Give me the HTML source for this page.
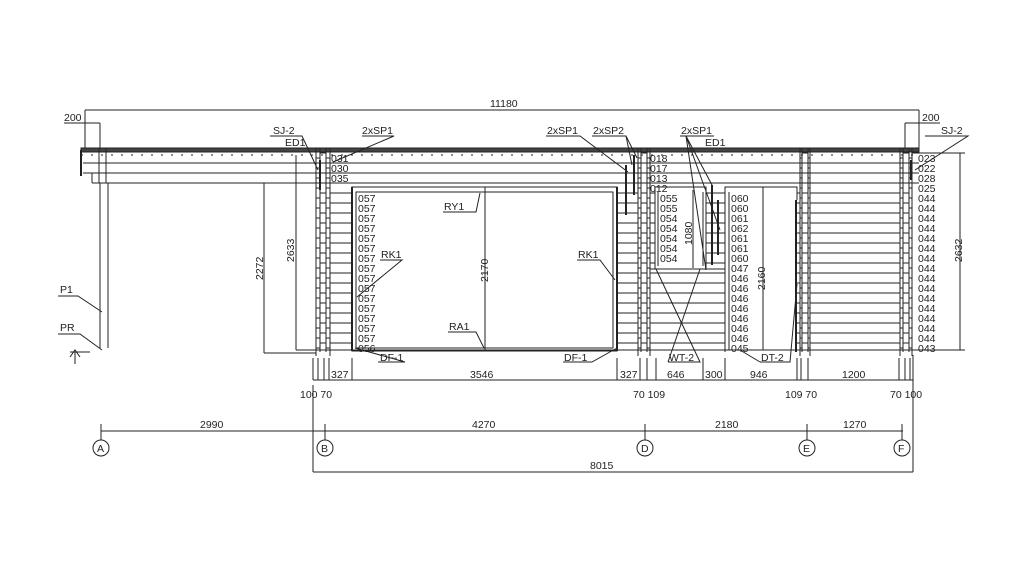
<!DOCTYPE html>
<html><head><meta charset="utf-8"><style>
html,body{margin:0;padding:0;background:#fff;}
svg{display:block}
text{font-family:"Liberation Sans",sans-serif;font-size:10.5px;fill:#222;}
</style></head><body>
<svg id="s" width="1024" height="576" viewBox="0 0 1024 576" xmlns="http://www.w3.org/2000/svg">
<rect width="1024" height="576" fill="#fff"/>
<g id="g" stroke="#222" stroke-width="1" fill="none">
<!-- top dims -->
<line x1="85" y1="110" x2="919" y2="110"/>
<line x1="85" y1="110" x2="85" y2="150"/>
<line x1="919" y1="110" x2="919" y2="150"/>
<line x1="64" y1="123" x2="100" y2="123"/>
<line x1="100" y1="123" x2="100" y2="150"/>
<line x1="905" y1="123" x2="940" y2="123"/>
<line x1="905" y1="123" x2="905" y2="150"/>
<!-- roof -->
<rect x="81" y="148" width="838" height="4" fill="#444" stroke="#222"/>
<line x1="81" y1="155" x2="919" y2="155" stroke-dasharray="2,8"/>
<line x1="83" y1="163" x2="919" y2="163"/>
<line x1="83" y1="173" x2="919" y2="173"/>
<line x1="92" y1="183" x2="919" y2="183"/>
<line x1="81" y1="150" x2="81" y2="176" stroke-width="2"/>
<line x1="92" y1="173" x2="92" y2="183"/>
<!-- left post -->
<rect x="99" y="148" width="7" height="35"/>
<line x1="100" y1="183" x2="100" y2="348"/>
<line x1="108" y1="183" x2="108" y2="348"/>
<!-- garage door -->
<rect x="352" y="187" width="265" height="164"/>
<rect x="356" y="192" width="257" height="156"/>
<line x1="485" y1="187" x2="485" y2="351"/>
<!-- window -->
<rect x="655" y="187" width="51" height="82"/>
<line x1="658" y1="192" x2="658" y2="266"/>
<line x1="703" y1="192" x2="703" y2="266"/>
<line x1="693" y1="190" x2="693" y2="268"/>
<!-- door -->
<path d="M725 352 V187 H797 V200"/>
<line x1="729" y1="192" x2="729" y2="350"/>
<line x1="763" y1="187" x2="763" y2="350"/>
<!-- vertical dims -->
<line x1="264" y1="183" x2="264" y2="353"/>
<line x1="264" y1="353" x2="316" y2="353"/>
<line x1="296" y1="155" x2="296" y2="350"/>
<line x1="296" y1="350" x2="316" y2="350"/>
<line x1="960" y1="153" x2="960" y2="350"/>
<line x1="912" y1="153" x2="965" y2="153"/>
<line x1="912" y1="350" x2="965" y2="350"/>
<!-- bottom dims -->
<line x1="313" y1="380" x2="913" y2="380"/>
<line x1="101" y1="431" x2="903" y2="431"/>
<line x1="313" y1="385" x2="313" y2="472"/>
<line x1="313" y1="472" x2="913" y2="472"/>
<line x1="913" y1="355" x2="913" y2="472"/>
<circle cx="101" cy="448" r="8"/><circle cx="325" cy="448" r="8"/><circle cx="645" cy="448" r="8"/><circle cx="807" cy="448" r="8"/><circle cx="902" cy="448" r="8"/>
<line x1="101" y1="424" x2="101" y2="440"/><line x1="325" y1="424" x2="325" y2="440"/><line x1="645" y1="424" x2="645" y2="440"/><line x1="807" y1="424" x2="807" y2="440"/><line x1="902" y1="424" x2="902" y2="440"/>
<!-- leaders -->
<path d="M270 136 H302 L318 170"/>
<path d="M362 136 H394 L333 162"/>
<path d="M546 136 H580 L628 172"/>
<path d="M592 136 H626 L637 158 M626 136 L632 165"/>
<path d="M680 136 H714 M686 136 L712 185 M686 136 L720 230 M686 136 L706 270"/>
<path d="M925 136 H968 L915 170"/>
<path d="M443 212 H476 L480 193"/>
<path d="M380 260 H402 L357 297"/>
<path d="M577 260 H600 L615 280"/>
<path d="M448 332 H476 L484 348"/>
<path d="M378 362 H405 L355 348"/>
<path d="M563 362 H592 L617 348"/>
<path d="M668 362 H700 L656 269 M668 362 L700 269"/>
<path d="M760 362 H790 L797 284 M760 362 L740 350"/>
<path d="M58 296 H78 L102 312"/>
<path d="M58 334 H80 L102 350"/>
<path d="M75 352 V364 M70 357 L75 350 L80 357"/>
<path d="M70 352 H90"/>
</g>
<g font-size="10">
<text x="64" y="121">200</text>
<text x="490" y="107">11180</text>
<text x="922" y="121">200</text>
<text x="273" y="134">SJ-2</text>
<text x="285" y="146">ED1</text>
<text x="362" y="134">2xSP1</text>
<text x="547" y="134">2xSP1</text>
<text x="593" y="134">2xSP2</text>
<text x="681" y="134">2xSP1</text>
<text x="705" y="146">ED1</text>
<text x="941" y="134">SJ-2</text>
<text x="444" y="210">RY1</text>
<text x="381" y="258">RK1</text>
<text x="578" y="258">RK1</text>
<text x="449" y="330">RA1</text>
<text x="380" y="361">DF-1</text>
<text x="564" y="361">DF-1</text>
<text x="669" y="361">WT-2</text>
<text x="761" y="361">DT-2</text>
<text x="60" y="293">P1</text>
<text x="60" y="331">PR</text>
<text x="331" y="378">327</text>
<text x="470" y="378">3546</text>
<text x="620" y="378">327</text>
<text x="667" y="378">646</text>
<text x="705" y="378">300</text>
<text x="750" y="378">946</text>
<text x="842" y="378">1200</text>
<text x="300" y="398">100 70</text>
<text x="633" y="398">70 109</text>
<text x="785" y="398">109 70</text>
<text x="890" y="398">70 100</text>
<text x="200" y="428">2990</text>
<text x="472" y="428">4270</text>
<text x="715" y="428">2180</text>
<text x="843" y="428">1270</text>
<text x="590" y="469">8015</text>
<text x="97" y="452">A</text><text x="321" y="452">B</text><text x="641" y="452">D</text><text x="803" y="452">E</text><text x="898" y="452">F</text>
<text transform="translate(263,280) rotate(-90)">2272</text>
<text transform="translate(294,262) rotate(-90)">2633</text>
<text transform="translate(962,262) rotate(-90)">2632</text>
<text transform="translate(488,282) rotate(-90)">2170</text>
<text transform="translate(692,245) rotate(-90)">1080</text>
<text transform="translate(765,290) rotate(-90)">2160</text>
<text x="331" y="162">031</text><text x="331" y="172">030</text><text x="331" y="182">035</text>
<text x="650" y="162">018</text><text x="650" y="172">017</text><text x="650" y="182">013</text><text x="650" y="192">012</text>
<text x="358" y="202">057</text><text x="358" y="212">057</text><text x="358" y="222">057</text><text x="358" y="232">057</text><text x="358" y="242">057</text><text x="358" y="252">057</text><text x="358" y="262">057</text><text x="358" y="272">057</text><text x="358" y="282">057</text><text x="358" y="292">057</text><text x="358" y="302">057</text><text x="358" y="312">057</text><text x="358" y="322">057</text><text x="358" y="332">057</text><text x="358" y="342">057</text><text x="358" y="352">056</text>
<text x="660" y="202">055</text><text x="660" y="212">055</text><text x="660" y="222">054</text><text x="660" y="232">054</text><text x="660" y="242">054</text><text x="660" y="252">054</text><text x="660" y="262">054</text>
<text x="731" y="202">060</text><text x="731" y="212">060</text><text x="731" y="222">061</text><text x="731" y="232">062</text><text x="731" y="242">061</text><text x="731" y="252">061</text><text x="731" y="262">060</text><text x="731" y="272">047</text><text x="731" y="282">046</text><text x="731" y="292">046</text><text x="731" y="302">046</text><text x="731" y="312">046</text><text x="731" y="322">046</text><text x="731" y="332">046</text><text x="731" y="342">046</text><text x="731" y="352">045</text>
<text x="918" y="162">023</text><text x="918" y="172">022</text><text x="918" y="182">028</text><text x="918" y="192">025</text><text x="918" y="202">044</text><text x="918" y="212">044</text><text x="918" y="222">044</text><text x="918" y="232">044</text><text x="918" y="242">044</text><text x="918" y="252">044</text><text x="918" y="262">044</text><text x="918" y="272">044</text><text x="918" y="282">044</text><text x="918" y="292">044</text><text x="918" y="302">044</text><text x="918" y="312">044</text><text x="918" y="322">044</text><text x="918" y="332">044</text><text x="918" y="342">044</text><text x="918" y="352">043</text>
</g>
</svg>
<script>
var g=document.getElementById('g'),NS='http://www.w3.org/2000/svg';
function L(a,b,c,d,w){var e=document.createElementNS(NS,'line');e.setAttribute('x1',a);e.setAttribute('y1',b);e.setAttribute('x2',c);e.setAttribute('y2',d);if(w)e.setAttribute('stroke-width',w);g.appendChild(e);}
var gaps=[[330,352],[617,638],[650,655],[706,725],[797,800],[810,900]];
for(var y=193;y<=343;y+=10){gaps.forEach(function(s){if(s[0]==650&&y>269)s=[650,725];L(s[0],y,s[1],y);});}
L(316,350,912,350);
L(650,269,725,269);
// walls
[[316,330],[638,650],[800,810],[900,912]].forEach(function(w){
 L(w[0],148,w[0],356);L(w[1],148,w[1],356);var m=(w[0]+w[1])/2;L(m-3,148,m-3,352);L(m+3,148,m+3,352);
 for(var y=153;y<350;y+=10){L(m-3,y,m+3,y);L(w[0],y+5,m-3,y+5);L(m+3,y+5,w[1],y+5);}
});
// extra frames
L(352,187,352,351,2);L(617,187,617,351,2);L(796,200,796,352,2);
L(626,165,626,215,2);L(634,155,634,195,2);L(712,185,712,265,2);L(718,200,718,255,2);L(320,160,320,190,2);L(911,160,911,180,2);
// bottom ticks
[313,318,324,329,352,617,640,647,656,703,725,797,801,808,899,905,910].forEach(function(x){L(x,358,x,380);});
</script>
</body></html>
